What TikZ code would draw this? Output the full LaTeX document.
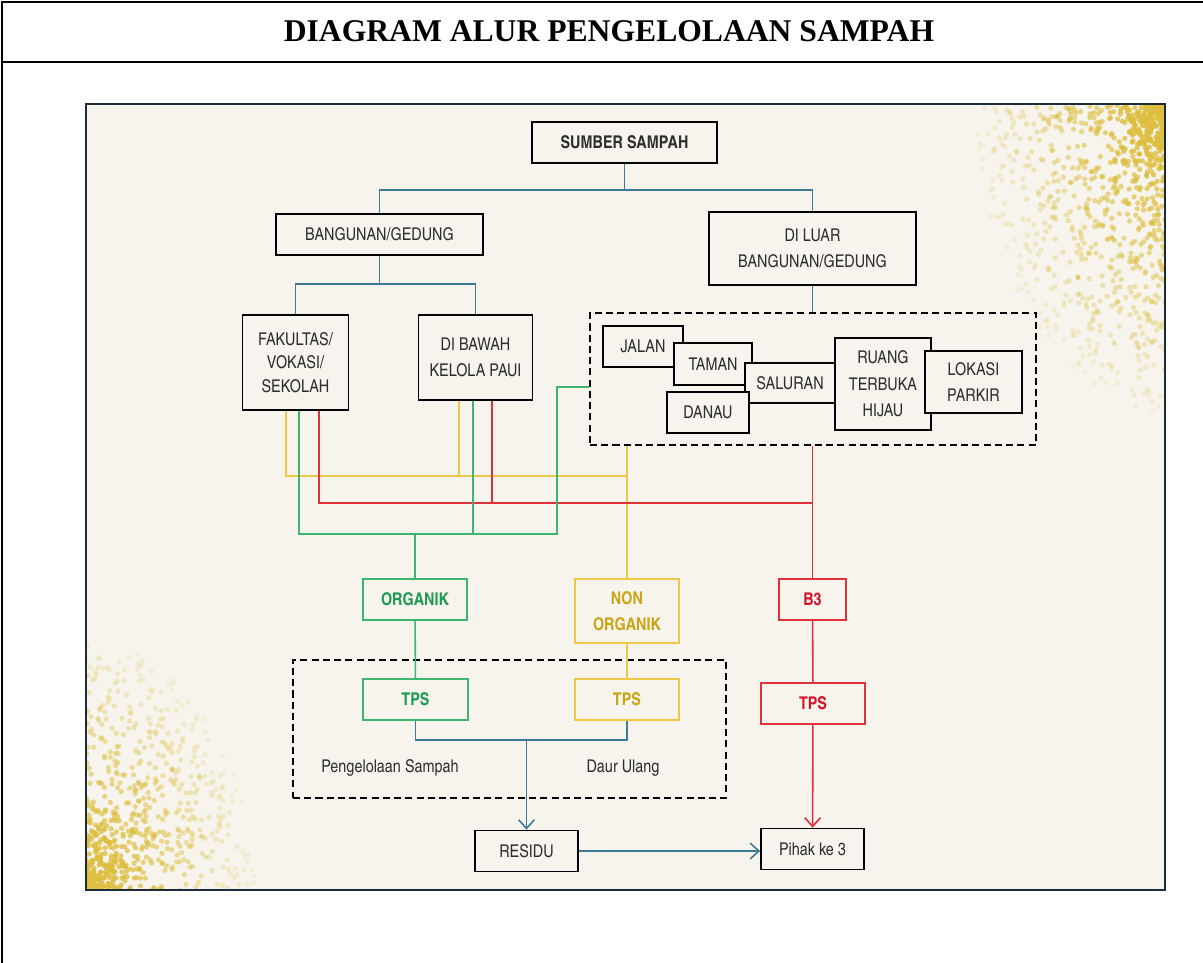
\documentclass[tikz,border=0pt]{standalone}
\usepackage{fontspec}
\setmainfont{Liberation Serif}
\newfontfamily\heroscn{texgyreheroscn}[Extension=.otf, UprightFont=*-regular, BoldFont=*-bold]
\usetikzlibrary{arrows.meta, fit}

\definecolor{framenavy}{HTML}{1B2B3B}
\definecolor{cream}{HTML}{F6F4EC}
\definecolor{lineblue}{HTML}{3D7A99}
\definecolor{orgline}{HTML}{3CB66E}
\definecolor{orgtext}{HTML}{1E9A52}
\definecolor{nonline}{HTML}{F0C847}
\definecolor{nontext}{HTML}{C9A413}
\definecolor{bline}{HTML}{E0303A}
\definecolor{btext}{HTML}{D0142C}
\definecolor{dotgold}{HTML}{DDBE3E}
\definecolor{boxtext}{HTML}{2E2E2E}

\begin{document}
\begin{tikzpicture}[
    x=0.02cm, y=-0.02cm,
    every node/.style={font=\heroscn\fontsize{10}{15}\selectfont, text=boxtext},
    box/.style={draw, line width=1pt, fill=cream, align=center, inner sep=0pt},
    cbox/.style={box, line width=0.9pt, font=\heroscn\bfseries\fontsize{10}{15}\selectfont},
    group/.style={draw, line width=1.6pt, dash pattern=on 4pt off 2.4pt, inner sep=0pt},
    conn/.style={draw=lineblue, line width=0.9pt},
    gn/.style={draw=orgline, line width=0.9pt},
    yl/.style={draw=nonline, line width=0.9pt},
    rd/.style={draw=bline, line width=0.9pt},
    tip/.style={-{Straight Barb[length=5pt, width=9pt]}}
]
    \useasboundingbox (0,0) rectangle (1203,963);
    % page table
    \draw[line width=1.5pt] (2,963) -- (2,2) -- (1203,2);
    \draw[line width=1.5pt] (2,62) -- (1203,62);
    \node[font=\bfseries\fontsize{18}{20}\selectfont, text=black] (title) at (609,31)
        {DIAGRAM ALUR PENGELOLAAN SAMPAH};

    % picture frame
    \fill[cream] (86,104) rectangle (1165,890);
    \begin{scope}
        \clip (86,104) rectangle (1165,890);
        \pgfmathsetseed{17}
        \foreach \i in {1,...,900}{
            \pgfmathsetmacro\rr{rnd^1.2}
            \pgfmathsetmacro\aa{90*rnd}
            \pgfmathsetmacro\op{0.95-0.85*\rr}
            \fill[dotgold, opacity=\op] ({1167-190*\rr*cos(\aa)},{102+310*\rr*sin(\aa)}) circle (1.5pt);
        }
        \foreach \i in {1,...,700}{
            \pgfmathsetmacro\rr{rnd^1.2}
            \pgfmathsetmacro\aa{90*rnd}
            \pgfmathsetmacro\op{0.95-0.85*\rr}
            \fill[dotgold, opacity=\op] ({84+170*\rr*cos(\aa)},{892-250*\rr*sin(\aa)}) circle (1.5pt);
        }
    \end{scope}
    \draw[framenavy, line width=1.6pt] (86,104) rectangle (1165,890);

    % source nodes
    \node[box, font=\heroscn\bfseries\fontsize{10}{15}\selectfont,
          minimum width=3.7cm, minimum height=0.82cm] (sumber) at (624.5,142.5) {SUMBER SAMPAH};
    \node[box, minimum width=4.14cm, minimum height=0.82cm] (bangunan) at (379.5,234.5) {BANGUNAN/GEDUNG};
    \node[box, minimum width=4.14cm, minimum height=1.46cm] (luar) at (812.5,248.5) {DI LUAR\\BANGUNAN/GEDUNG};
    \node[box, minimum width=2.12cm, minimum height=1.9cm, font=\heroscn\fontsize{10}{13.2}\selectfont]
        (fak) at (295.5,362.5) {FAKULTAS/\\VOKASI/\\SEKOLAH};
    \node[box, minimum width=2.28cm, minimum height=1.7cm] (bawah) at (475.5,357.5) {DI BAWAH\\KELOLA PAUI};

    % outdoor locations
    \coordinate (a1) at (590,313);
    \coordinate (a2) at (1036,445);
    \node[group, fit=(a1)(a2)] (area) {};
    \node[box, minimum width=1.6cm, minimum height=0.82cm] (jalan) at (643,346.5) {JALAN};
    \node[box, minimum width=1.56cm, minimum height=0.84cm] (taman) at (713,364) {TAMAN};
    \node[box, minimum width=1.8cm, minimum height=0.8cm] (saluran) at (790,383) {SALURAN};
    \node[box, minimum width=1.64cm, minimum height=0.82cm] (danau) at (708,412.5) {DANAU};
    \node[box, minimum width=1.92cm, minimum height=1.84cm] (ruang) at (883,384) {RUANG\\TERBUKA\\HIJAU};
    \node[box, minimum width=1.94cm, minimum height=1.24cm] (lokasi) at (973.5,382) {LOKASI\\PARKIR};

    % waste types
    \node[cbox, draw=orgline, text=orgtext, minimum width=2.08cm, minimum height=0.82cm] (organik) at (415,599.5) {ORGANIK};
    \node[cbox, draw=nonline, text=nontext, minimum width=2.08cm, minimum height=1.28cm] (nonorg) at (627,611) {NON\\ORGANIK};
    \node[cbox, draw=bline, text=btext, minimum width=1.34cm, minimum height=0.82cm] (b3) at (812.5,599.5) {B3};

    % TPS
    \coordinate (t1) at (293,660);
    \coordinate (t2) at (726,798);
    \node[group, fit=(t1)(t2)] (olah) {};
    \node[cbox, draw=orgline, text=orgtext, minimum width=2.1cm, minimum height=0.82cm] (tpsg) at (415.5,699.5) {TPS};
    \node[cbox, draw=nonline, text=nontext, minimum width=2.08cm, minimum height=0.82cm] (tpsy) at (627,699.5) {TPS};
    \node[cbox, draw=bline, text=btext, minimum width=2.08cm, minimum height=0.82cm] (tpsr) at (813,703.5) {TPS};
    \node (peng) at (390,768) {Pengelolaan Sampah};
    \node (daur) at (623,768) {Daur Ulang};

    % end points
    \node[box, minimum width=2.06cm, minimum height=0.82cm] (residu) at (526.5,851) {RESIDU};
    \node[box, minimum width=2.06cm, minimum height=0.82cm] (pihak) at (812.5,849) {Pihak ke 3};

    % blue tree
    \coordinate (jtop) at (624.5,190);
    \coordinate (jmid) at (379.5,284);
    \draw[conn] (sumber) -- (jtop) -| (bangunan);
    \draw[conn] (jtop) -| (luar);
    \draw[conn] (bangunan) -- (jmid);
    \draw[conn] (fak.north) |- (jmid) -| (bawah.north);
    \draw[conn] (luar) -- (luar |- area.north);

    % colour buses
    \coordinate (ybus) at (0,476);
    \coordinate (rbus) at (0,503);
    \coordinate (gbus) at (0,534);
    \coordinate (gturn) at (557,387);
    \draw[yl] ([xshift=-0.19cm]fak.south) |- (nonorg.north |- ybus);
    \draw[yl] ([xshift=-0.33cm]bawah.south) -- ([xshift=-0.33cm]bawah.south |- ybus);
    \draw[yl] (nonorg.north |- area.south) -- (nonorg.north);
    \draw[rd] ([xshift=0.47cm]fak.south) |- (b3.north |- rbus);
    \draw[rd] ([xshift=0.33cm]bawah.south) -- ([xshift=0.33cm]bawah.south |- rbus);
    \draw[rd] (b3.north |- area.south) -- (b3.north);
    \draw[gn] ([xshift=0.07cm]fak.south) |- (gturn |- gbus) -- (gturn) -- (gturn -| area.west);
    \draw[gn] ([xshift=-0.05cm]bawah.south) -- ([xshift=-0.05cm]bawah.south |- gbus);
    \draw[gn] (organik.north |- gbus) -- (organik.north);

    % down to TPS
    \draw[gn] (organik) -- (tpsg);
    \draw[yl] (nonorg) -- (tpsy);
    \draw[rd] (b3) -- (tpsr);

    % residue and third party
    \coordinate (jres) at (526.5,740);
    \draw[conn] (tpsg.south) |- (jres -| tpsy.south) -- (tpsy.south);
    \draw[conn, tip] (jres) -- (residu.north);
    \draw[conn, tip] (residu) -- (residu -| pihak.west);
    \draw[rd, tip] (tpsr) -- (pihak);
\end{tikzpicture}
\end{document}
